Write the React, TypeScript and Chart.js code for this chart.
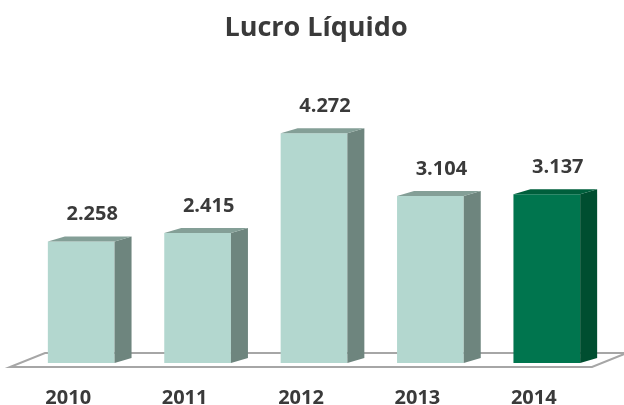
import React, { useEffect, useRef } from "react";
import { Chart, registerables } from "chart.js";

Chart.register(...registerables);

const title = "Lucro Líquido";
const categories = ["2010", "2011", "2012", "2013", "2014"];
const values = [2258, 2415, 4272, 3104, 3137];
const valueLabels = ["2.258", "2.415", "4.272", "3.104", "3.137"];
const frontColors = ["#b3d7cf", "#b3d7cf", "#b3d7cf", "#b3d7cf", "#00754e"];
const sideColors = ["#6e857e", "#6e857e", "#6e857e", "#6e857e", "#004e30"];
const topColors = ["#849f97", "#849f97", "#849f97", "#849f97", "#005f3c"];
const yMin = 0;
const yMax = 5000;

const DX = 17;
const DY = 5;
const FONT = "'Open Sans', Lato, sans-serif";
const TEXT = "#3a3a3a";

const bar3d = {
  id: "bar3d",
  beforeDatasetsDraw(chart: any) {
    const { ctx, chartArea: a } = chart;
    ctx.save();
    ctx.beginPath();
    ctx.moveTo(a.left - 13, a.bottom + 4);
    ctx.lineTo(a.right - 13, a.bottom + 4);
    ctx.lineTo(a.right + 22, a.bottom - 10);
    ctx.lineTo(a.left + 22, a.bottom - 10);
    ctx.closePath();
    ctx.fillStyle = "#ffffff";
    ctx.fill();
    ctx.strokeStyle = "#a6a6a6";
    ctx.lineWidth = 2;
    ctx.stroke();
    ctx.restore();
  },
  afterDatasetsDraw(chart: any) {
    const { ctx } = chart;
    const meta = chart.getDatasetMeta(0);
    ctx.save();
    meta.data.forEach((el: any, i: number) => {
      const { x, y, base, width } = el.getProps(["x", "y", "base", "width"], true);
      const l = x - width / 2;
      const r = x + width / 2;
      ctx.beginPath();
      ctx.moveTo(r, y);
      ctx.lineTo(r + DX, y - DY);
      ctx.lineTo(r + DX, base - DY);
      ctx.lineTo(r, base);
      ctx.closePath();
      ctx.fillStyle = sideColors[i];
      ctx.fill();
      ctx.beginPath();
      ctx.moveTo(l, y);
      ctx.lineTo(l + DX, y - DY);
      ctx.lineTo(r + DX, y - DY);
      ctx.lineTo(r, y);
      ctx.closePath();
      ctx.fillStyle = topColors[i];
      ctx.fill();

      ctx.fillStyle = TEXT;
      ctx.font = `bold 20px ${FONT}`;
      ctx.textAlign = "center";
      ctx.textBaseline = "alphabetic";
      ctx.fillText(valueLabels[i], x + 11, y - 21.5);
    });
    const xs = chart.scales.x;
    ctx.fillStyle = TEXT;
    ctx.font = `bold 20px ${FONT}`;
    ctx.textAlign = "center";
    ctx.textBaseline = "alphabetic";
    categories.forEach((c, i) => {
      ctx.fillText(c, xs.getPixelForValue(i) - 13, 404);
    });
    ctx.font = `bold 27px ${FONT}`;
    ctx.fillText(title, 316, 36);
    ctx.restore();
  },
};

export default function App() {
  const ref = useRef<HTMLCanvasElement>(null);
  useEffect(() => {
    if (!ref.current) return;
    const chart = new Chart(ref.current, {
      type: "bar",
      data: {
        labels: categories,
        datasets: [
          {
            data: values,
            backgroundColor: frontColors,
            borderWidth: 0,
            barPercentage: 0.573,
            categoryPercentage: 1,
          },
        ],
      },
      options: {
        animation: false,
        responsive: true,
        maintainAspectRatio: false,
        layout: { padding: { left: 23, right: 19, top: 94, bottom: 42 } },
        plugins: {
          legend: { display: false },
          title: { display: false },
          tooltip: { enabled: false },
        },
        scales: {
          x: { display: false },
          y: { display: false, min: yMin, max: yMax },
        },
      },
      plugins: [bar3d],
    });
    return () => chart.destroy();
  }, []);
  return (
    <div style={{ position: "fixed", left: 0, top: 0, width: 624, height: 405, background: "#fff" }}>
      <canvas ref={ref} />
    </div>
  );
}
